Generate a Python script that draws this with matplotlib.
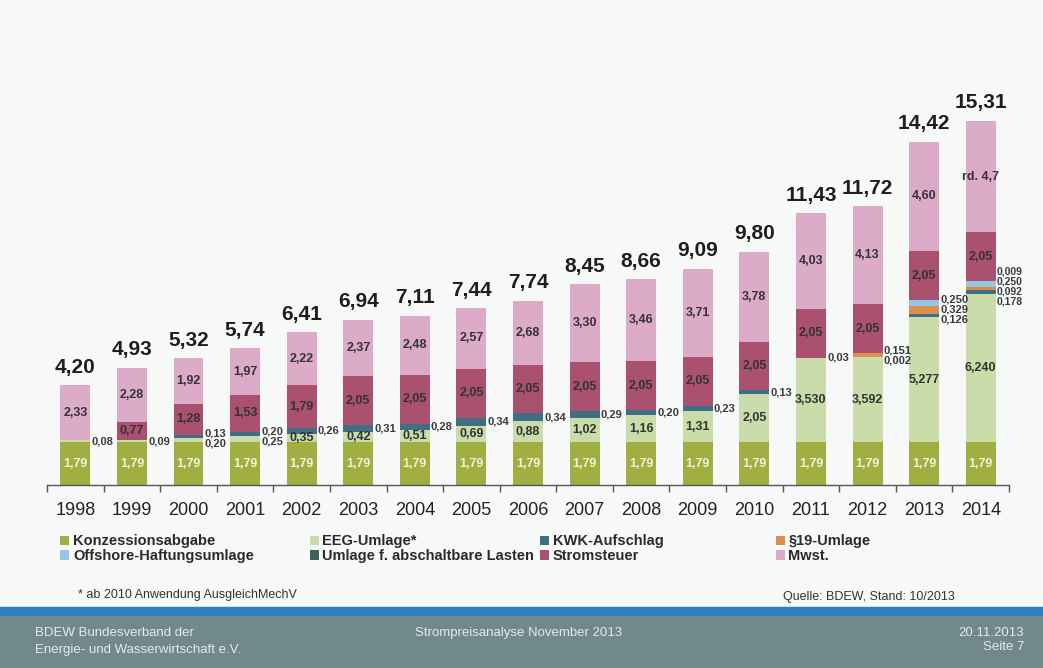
import matplotlib.pyplot as plt
from matplotlib.patches import Rectangle
import numpy as np

plt.rcParams['font.family'] = ['Liberation Sans', 'DejaVu Sans']

years = list(range(1998, 2015))

# ct/kWh, stacked from bottom to top
konzession = [1.79] * 17
eeg = [0.08, 0.09, 0.20, 0.25, 0.35, 0.42, 0.51, 0.69, 0.88, 1.02, 1.16, 1.31,
       2.05, 3.530, 3.592, 5.277, 6.240]
kwk = [0, 0, 0.13, 0.20, 0.26, 0.31, 0.28, 0.34, 0.34, 0.29, 0.20, 0.23,
       0.13, 0.03, 0.002, 0.126, 0.178]
par19 = [0] * 14 + [0.151, 0.329, 0.092]
offshore = [0] * 15 + [0.250, 0.250]
abschaltbar = [0] * 16 + [0.009]
stromsteuer = [0, 0.77, 1.28, 1.53, 1.79, 2.05, 2.05, 2.05, 2.05, 2.05, 2.05,
               2.05, 2.05, 2.05, 2.05, 2.05, 2.05]
mwst = [2.33, 2.28, 1.92, 1.97, 2.22, 2.37, 2.48, 2.57, 2.68, 3.30, 3.46, 3.71,
        3.78, 4.03, 4.13, 4.60, 4.70]
totals = [4.20, 4.93, 5.32, 5.74, 6.41, 6.94, 7.11, 7.44, 7.74, 8.45, 8.66,
          9.09, 9.80, 11.43, 11.72, 14.42, 15.31]

series = [
    ('Konzessionsabgabe', konzession, '#a0ae42'),
    ('EEG-Umlage*', eeg, '#c9dcaa'),
    ('KWK-Aufschlag', kwk, '#3f6f85'),
    ('§19-Umlage', par19, '#dc8f4e'),
    ('Offshore-Haftungsumlage', offshore, '#95c6e4'),
    ('Umlage f. abschaltbare Lasten', abschaltbar, '#3c5f58'),
    ('Stromsteuer', stromsteuer, '#a9516f'),
    ('Mwst.', mwst, '#dcabc8'),
]

def fmt(v, dec):
    return f'{v:.{dec}f}'.replace('.', ',')

fig = plt.figure(figsize=(10.43, 6.68), dpi=100)
bg = '#f7f9f9'
fig.patch.set_facecolor(bg)
ax = fig.add_axes([0.0451, 0.274, 0.9223, 0.5879])
ax.set_facecolor(bg)

x = np.arange(len(years))
w = 0.53
bottom = np.zeros(len(years))
handles = {}
outside = {i: [] for i in range(len(years))}
for name, vals, col in series:
    vals = np.array(vals, dtype=float)
    b = ax.bar(x, vals, w, bottom=bottom, color=col, edgecolor='none', zorder=2)
    handles[name] = b
    for i, v in enumerate(vals):
        if v <= 0:
            continue
        yr = years[i]
        dec = 2
        if yr >= 2011 and name not in ('Konzessionsabgabe', 'Stromsteuer', 'Mwst.'):
            dec = 3
        if yr == 2011 and name == 'KWK-Aufschlag':
            dec = 2
        txt = fmt(v, dec)
        if name == 'Mwst.' and yr == 2014:
            txt = 'rd. 4,7'
        mid = bottom[i] + v / 2
        if v >= 0.345:
            c = '#f4f2dc' if name == 'Konzessionsabgabe' else '#333333'
            ax.text(i, mid, txt, ha='center', va='center', fontsize=9,
                    fontweight='bold', color=c, zorder=3)
        else:
            outside[i].append((mid, txt))
    bottom += vals

# small values next to the bars, spread apart
for i, labs in outside.items():
    if not labs:
        continue
    n = len(labs)
    gap = 0.42
    mean = np.mean([m for m, _ in labs])
    fs = 7.5 if n > 3 else 8
    for k, (m, txt) in enumerate(labs):
        yy = mean + (k - (n - 1) / 2) * gap
        ax.text(i + w / 2 + 0.02, yy, txt, ha='left', va='center', fontsize=fs,
                fontweight='bold', color='#3a3a3a', zorder=3)

for i, t in enumerate(totals):
    ax.annotate(fmt(t, 2), (i, t), xytext=(0, 6), textcoords='offset points',
                ha='center', va='bottom', fontsize=15, fontweight='bold',
                color='#1e1e1e')

ax.set_xlim(-0.5, len(years) - 0.5)
ax.set_ylim(0, 16.5)
for s in ('top', 'right', 'left'):
    ax.spines[s].set_visible(False)
ax.spines['bottom'].set_color('#555555')
ax.spines['bottom'].set_linewidth(1.0)
ax.set_yticks([])
ax.set_xticks(x)
ax.set_xticklabels([str(y) for y in years], fontsize=13, color='#222222')
ax.set_xticks(np.arange(-0.5, len(years)), minor=True)
ax.tick_params(axis='x', which='major', length=0, pad=12)
ax.tick_params(axis='x', which='minor', length=5, color='#555555', width=1)

# legend: four fixed columns, two rows
cols = [
    (['Konzessionsabgabe', 'Offshore-Haftungsumlage'], 0.058),
    (['EEG-Umlage*', 'Umlage f. abschaltbare Lasten'], 0.297),
    (['KWK-Aufschlag', 'Stromsteuer'], 0.518),
    (['§19-Umlage', 'Mwst.'], 0.744),
]
for names, xl in cols:
    leg = fig.legend([handles[n] for n in names], names, loc='upper left',
                     bbox_to_anchor=(xl, 0.200), frameon=False,
                     prop={'size': 10.5, 'weight': 'bold'}, handlelength=0.6,
                     handleheight=0.6, handletextpad=0.25, labelspacing=0.05,
                     borderaxespad=0, borderpad=0)
    for t in leg.get_texts():
        t.set_color('#2a2a2a')

fig.text(0.0748, 0.109, '* ab 2010 Anwendung AusgleichMechV', fontsize=9,
         color='#333333', va='center')
fig.text(0.751, 0.107, 'Quelle: BDEW, Stand: 10/2013', fontsize=9,
         color='#333333', va='center')

# footer band
fig.add_artist(Rectangle((0, 0), 1, 53 / 668, transform=fig.transFigure,
                         color='#72898c', zorder=0))
fig.add_artist(Rectangle((0, 53 / 668), 1, 8 / 668, transform=fig.transFigure,
                         color='#2e7fbf', zorder=0))
fc = '#e4eaeb'
fig.text(0.0336, 0.0524, 'BDEW Bundesverband der', fontsize=9.5, color=fc, va='center')
fig.text(0.0336, 0.027, 'Energie- und Wasserwirtschaft e.V.', fontsize=9.5, color=fc, va='center')
fig.text(0.398, 0.0524, 'Strompreisanalyse November 2013', fontsize=9.5, color=fc, va='center')
fig.text(0.982, 0.0524, '20.11.2013', fontsize=9.5, color=fc, va='center', ha='right')
fig.text(0.982, 0.031, 'Seite 7', fontsize=9.5, color=fc, va='center', ha='right')

fig.savefig('out.png', dpi=100, facecolor=bg)
